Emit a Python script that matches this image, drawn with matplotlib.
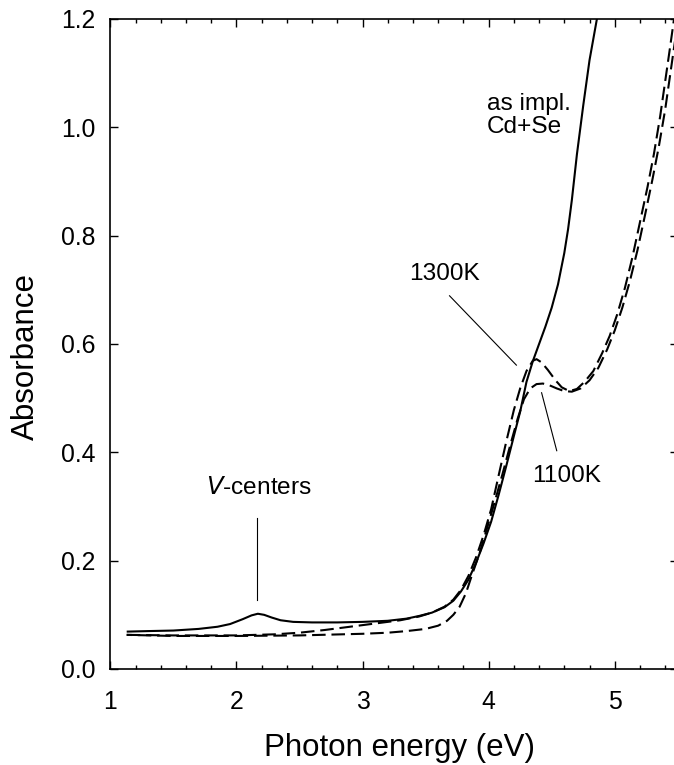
import matplotlib
matplotlib.use("Agg")
import matplotlib.pyplot as plt
from matplotlib.ticker import MultipleLocator

plt.rcParams['font.family'] = ['Liberation Sans', 'DejaVu Sans']

# As-implanted Cd+Se sample (solid)
e_impl = [1.13, 1.30, 1.50, 1.70, 1.85, 1.95, 2.05, 2.12, 2.17, 2.22, 2.28, 2.35,
          2.45, 2.60, 2.80, 3.00, 3.20, 3.35, 3.45, 3.55, 3.65, 3.72, 3.78, 3.84,
          3.90, 3.96, 4.02, 4.08, 4.14, 4.20, 4.25, 4.30, 4.35, 4.40, 4.45, 4.50,
          4.55, 4.60, 4.63, 4.66, 4.70, 4.75, 4.80, 4.87]
a_impl = [0.069, 0.070, 0.071, 0.074, 0.078, 0.083, 0.092, 0.099, 0.102, 0.100, 0.095, 0.090,
          0.087, 0.086, 0.086, 0.087, 0.089, 0.093, 0.098, 0.104, 0.114, 0.126, 0.143, 0.165,
          0.196, 0.232, 0.272, 0.322, 0.375, 0.430, 0.475, 0.530, 0.568, 0.600, 0.632, 0.667,
          0.710, 0.768, 0.812, 0.866, 0.950, 1.040, 1.124, 1.215]

# Annealed at 1300 K (dashed)
e_1300 = [1.13, 1.50, 2.00, 2.30, 2.50, 2.70, 2.90, 3.10, 3.30, 3.45, 3.55, 3.65,
          3.72, 3.78, 3.84, 3.90, 3.96, 4.02, 4.08, 4.14, 4.20, 4.25, 4.30, 4.35,
          4.38, 4.42, 4.47, 4.53, 4.58, 4.64, 4.70, 4.76, 4.83, 4.90, 4.96, 5.02,
          5.08, 5.14, 5.20, 5.26, 5.31, 5.36, 5.40, 5.44, 5.47]
a_1300 = [0.063, 0.062, 0.062, 0.064, 0.067, 0.072, 0.078, 0.084, 0.090, 0.097, 0.104, 0.115,
          0.128, 0.146, 0.172, 0.206, 0.247, 0.295, 0.358, 0.420, 0.478, 0.518, 0.550, 0.569,
          0.572, 0.566, 0.552, 0.533, 0.520, 0.513, 0.517, 0.530, 0.550, 0.583, 0.615, 0.655,
          0.703, 0.760, 0.825, 0.890, 0.950, 1.020, 1.085, 1.150, 1.200]

# Annealed at 1100 K (dashed)
e_1100 = [1.13, 1.50, 2.00, 2.50, 3.00, 3.20, 3.35, 3.50, 3.60, 3.67, 3.72, 3.77,
          3.82, 3.87, 3.93, 3.99, 4.05, 4.11, 4.17, 4.23, 4.28, 4.33, 4.38, 4.43,
          4.48, 4.54, 4.60, 4.66, 4.73, 4.80, 4.87, 4.94, 5.00, 5.06, 5.12, 5.18,
          5.24, 5.30, 5.35, 5.40, 5.44, 5.48, 5.51]
a_1100 = [0.063, 0.061, 0.061, 0.062, 0.065, 0.067, 0.070, 0.074, 0.080, 0.089, 0.100, 0.115,
          0.140, 0.175, 0.215, 0.262, 0.310, 0.360, 0.412, 0.462, 0.498, 0.518, 0.526, 0.527,
          0.524, 0.518, 0.513, 0.512, 0.518, 0.533, 0.556, 0.590, 0.625, 0.667, 0.716, 0.773,
          0.838, 0.905, 0.965, 1.033, 1.098, 1.163, 1.210]

x_ticks = [1, 2, 3, 4, 5]
y_ticks = [0.0, 0.2, 0.4, 0.6, 0.8, 1.0, 1.2]

W, H = 674, 765
fig = plt.figure(figsize=(W / 100, H / 100), dpi=100)
left_px, right_px, top_px, bottom_px = 110.3, 677.8, 19.0, 669.0
ax = fig.add_axes([left_px / W, 1 - bottom_px / H,
                   (right_px - left_px) / W, (bottom_px - top_px) / H])

dash = (6.5, 2.8)
ax.plot(e_impl, a_impl, color='black', lw=1.5, solid_capstyle='butt')
ax.plot(e_1300, a_1300, color='black', lw=1.5, linestyle=(0, dash))
ax.plot(e_1100, a_1100, color='black', lw=1.5, linestyle=(4, dash))

ax.set_xlim(1, 5.5)
ax.set_ylim(0, 1.2)
ax.set_xticks(x_ticks)
ax.set_xticklabels([str(v) for v in x_ticks])
ax.set_yticks(y_ticks)
ax.set_yticklabels([f"{v:.1f}" for v in y_ticks])
ax.xaxis.set_minor_locator(MultipleLocator(0.2))

for s in ax.spines.values():
    s.set_linewidth(1.2)
ax.tick_params(axis='both', which='both', direction='in', top=True, right=True,
               width=1.0, labelsize=17.8, colors='black')
ax.tick_params(axis='x', which='major', length=5.5, pad=15)
ax.tick_params(axis='x', which='minor', length=2.7)
ax.tick_params(axis='y', which='major', length=5.8, pad=11)

ax.set_xlabel('Photon energy (eV)', fontsize=22.5, va='baseline')
ax.xaxis.set_label_coords((400 - left_px) / (right_px - left_px),
                          (bottom_px - 756) / (bottom_px - top_px))
ax.set_ylabel('Absorbance', fontsize=22.5, va='center')
ax.yaxis.set_label_coords((25.5 - left_px) / (right_px - left_px),
                          (bottom_px - 356) / (bottom_px - top_px))

# Annotations with leader lines
fs = 17.6
ax.text(2.18, 0.334, r'$\it{V}$-centers', fontsize=fs, ha='center', va='center')
ax.plot([2.16, 2.16], [0.279, 0.127], color='black', lw=0.8)

ax.text(3.65, 0.729, '1300K', fontsize=fs, ha='center', va='center')
ax.plot([3.69, 4.22], [0.689, 0.561], color='black', lw=0.8)

ax.text(4.62, 0.356, '1100K', fontsize=fs, ha='center', va='center')
ax.plot([4.42, 4.54], [0.510, 0.403], color='black', lw=0.8)

ax.text(3.985, 1.064, 'as impl.\nCd+Se', fontsize=fs, ha='left', va='top',
        linespacing=1.05)

fig.savefig('out.png', dpi=100)
